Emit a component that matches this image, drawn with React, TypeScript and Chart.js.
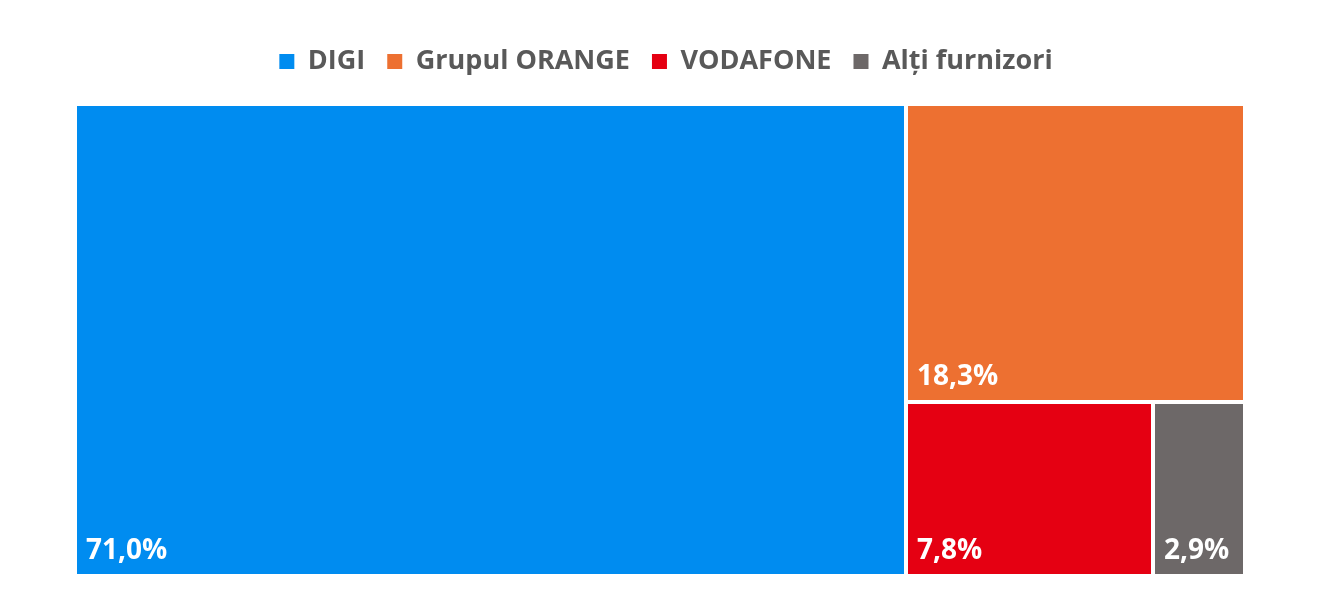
import React, { useEffect, useRef } from "react";
import { Chart, registerables } from "chart.js";

Chart.register(...registerables);

const categories = ["DIGI", "Grupul ORANGE", "VODAFONE", "Alți furnizori"];
const shares = [71.0, 18.3, 7.8, 2.9];
const valueLabels = ["71,0%", "18,3%", "7,8%", "2,9%"];
const colors = ["#008CF0", "#ED7031", "#E50012", "#6D6868"];

const FONT = "'Open Sans', 'DejaVu Sans', sans-serif";

type Rect = { x: number; y: number; w: number; h: number; i: number };

function worst(row: number[], side: number): number {
  const s = row.reduce((a, b) => a + b, 0);
  let m = 0;
  for (const r of row) {
    const v = Math.max((side * side * r) / (s * s), (s * s) / (side * side * r));
    if (v > m) m = v;
  }
  return m;
}

function squarify(values: number[], x: number, y: number, w: number, h: number): Rect[] {
  const total = values.reduce((a, b) => a + b, 0);
  const areas = values.map((v, i) => ({ a: (v / total) * w * h, i }));
  const out: Rect[] = [];
  let r = { x, y, w, h };
  let rest = areas.slice();
  while (rest.length) {
    const side = Math.min(r.w, r.h);
    let row = [rest[0]];
    let k = 1;
    while (
      k < rest.length &&
      worst(row.concat(rest[k]).map((o) => o.a), side) <= worst(row.map((o) => o.a), side)
    ) {
      row.push(rest[k]);
      k++;
    }
    const sum = row.reduce((a, o) => a + o.a, 0);
    if (r.w >= r.h) {
      const cw = sum / r.h;
      let cy = r.y;
      for (const o of row) {
        const hh = o.a / cw;
        out.push({ x: r.x, y: cy, w: cw, h: hh, i: o.i });
        cy += hh;
      }
      r = { x: r.x + cw, y: r.y, w: r.w - cw, h: r.h };
    } else {
      const rh = sum / r.w;
      let cx = r.x;
      for (const o of row) {
        const ww = o.a / rh;
        out.push({ x: cx, y: r.y, w: ww, h: rh, i: o.i });
        cx += ww;
      }
      r = { x: r.x, y: r.y + rh, w: r.w, h: r.h - rh };
    }
    rest = rest.slice(k);
  }
  return out;
}

const legendSpacer = {
  id: "legendSpacer",
  beforeInit(chart: any) {
    const legend = chart.legend;
    if (!legend) return;
    const origFit = legend.fit;
    legend.fit = function () {
      origFit.call(this);
      this.height += 19;
    };
  },
  afterLayout(chart: any) {
    const legend = chart.legend;
    if (!legend) return;
    legend.left += 12;
    legend.right += 0;
    if (typeof legend.adjustHitBoxes === "function") legend.adjustHitBoxes();
  },
};

const treemapPlugin = {
  id: "treemapCells",
  afterDatasetsDraw(chart: any) {
    const { ctx, scales } = chart;
    const xs = scales.x;
    const ys = scales.y;
    const left = xs.getPixelForValue(0);
    const right = xs.getPixelForValue(1);
    const top = ys.getPixelForValue(1);
    const bottom = ys.getPixelForValue(0);
    const rects = squarify(shares, left, top, right - left, bottom - top);
    const gap = 2;
    ctx.save();
    for (const rc of rects) {
      const x0 = Math.round(rc.x + gap);
      const y0 = Math.round(rc.y + gap);
      const x1 = Math.round(rc.x + rc.w - gap);
      const y1 = Math.round(rc.y + rc.h - gap);
      ctx.fillStyle = colors[rc.i];
      ctx.fillRect(x0, y0, x1 - x0, y1 - y0);
      ctx.fillStyle = "#FFFFFF";
      ctx.font = `bold 28px ${FONT}`;
      ctx.textAlign = "left";
      ctx.textBaseline = "alphabetic";
      ctx.fillText(valueLabels[rc.i], x0 + 9, y1 - 15);
    }
    ctx.restore();
  },
};

export default function App() {
  const ref = useRef<HTMLCanvasElement | null>(null);
  useEffect(() => {
    if (!ref.current) return;
    const chart = new Chart(ref.current, {
      type: "scatter",
      data: {
        datasets: [{ label: "cells", data: [] }],
      },
      options: {
        animation: false,
        responsive: true,
        maintainAspectRatio: false,
        layout: { padding: { left: 67, right: 83, bottom: 8, top: 18 } },
        scales: {
          x: { type: "linear", min: 0, max: 1, display: false },
          y: { type: "linear", min: 0, max: 1, display: false },
        },
        plugins: {
          tooltip: { enabled: false },
          legend: {
            display: true,
            position: "top",
            onClick: () => {},
            labels: {
              boxWidth: 15,
              boxHeight: 15,
              padding: 22,
              color: "#595959",
              font: { family: FONT, size: 27, weight: "bold" },
              generateLabels: () =>
                categories.map((c, i) => ({
                  text: c,
                  fillStyle: colors[i],
                  strokeStyle: colors[i],
                  lineWidth: 0,
                  hidden: false,
                  index: i,
                  fontColor: "#595959",
                })),
            },
          },
        },
      },
      plugins: [legendSpacer, treemapPlugin],
    });
    return () => chart.destroy();
  }, []);
  return (
    <div style={{ width: "100%", height: "576px", position: "relative" }}>
      <canvas ref={ref} />
    </div>
  );
}
